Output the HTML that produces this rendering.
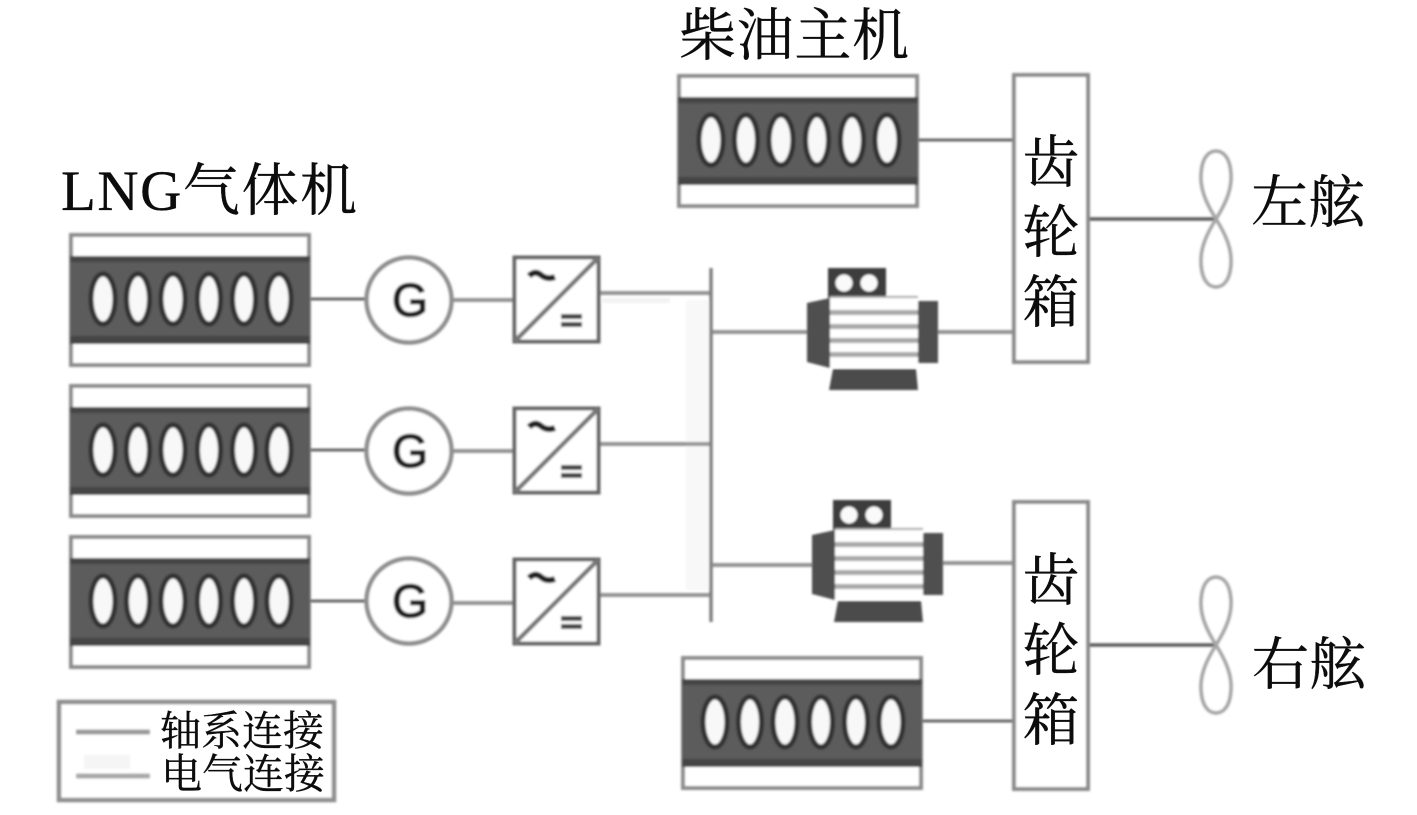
<!DOCTYPE html>
<html>
<head>
<meta charset="utf-8">
<style>
html,body{margin:0;padding:0;background:#fff;width:1417px;height:815px;overflow:hidden}
svg{display:block}
text{font-family:"Liberation Serif","Noto Serif CJK SC",serif;fill:#0c0c0c;stroke:#0c0c0c;stroke-width:.35px}
</style>
</head>
<body>
<svg width="1417" height="815" viewBox="0 0 1417 815" xmlns="http://www.w3.org/2000/svg">
<defs>
<filter id="b" x="-5%" y="-5%" width="110%" height="110%"><feGaussianBlur stdDeviation="1"/></filter>
<g id="engine">
  <rect x="1" y="1" width="238" height="130" fill="#fff" stroke="#8c8c8c" stroke-width="4"/>
  <rect x="0" y="22" width="240" height="88" fill="#5c5c5c"/>
  <rect x="0" y="22" width="240" height="6" fill="#444"/>
  <rect x="0" y="102" width="240" height="8" fill="#444"/>
  <g fill="#f8f8f8" stroke="#303030" stroke-width="5">
    <ellipse cx="33" cy="65" rx="12" ry="25"/>
    <ellipse cx="68" cy="65" rx="11.5" ry="25"/>
    <ellipse cx="103" cy="65" rx="12" ry="25"/>
    <ellipse cx="139" cy="65" rx="11.5" ry="25"/>
    <ellipse cx="174" cy="65" rx="11.5" ry="25"/>
    <ellipse cx="209" cy="65" rx="12" ry="25"/>
  </g>
</g>
<g id="gen">
  <circle cx="0" cy="0" r="42.5" fill="#fff" stroke="#8f8f8f" stroke-width="4.5"/>
  <text x="1" y="16" text-anchor="middle" style="font-family:'Liberation Sans',sans-serif;font-size:46px;fill:#1a1a1a;stroke:#1a1a1a;stroke-width:1.6px">G</text>
</g>
<g id="conv">
  <rect x="1.5" y="1.5" width="84" height="84" fill="#fff" stroke="#666" stroke-width="4"/>
  <line x1="2" y1="85" x2="85" y2="2" stroke="#777" stroke-width="4.5"/>
  <path d="M16 20 Q22 14 28 19 T42 21" fill="none" stroke="#222" stroke-width="6"/>
  <rect x="48" y="58" width="21" height="5" fill="#444"/>
  <rect x="48" y="66" width="21" height="5" fill="#444"/>
</g>
<g id="motor">
  <rect x="21" y="0" width="58" height="30" fill="#3e3e3e"/>
  <circle cx="37" cy="15" r="8.5" fill="#fafafa"/>
  <circle cx="62" cy="15" r="8.5" fill="#fafafa"/>
  <path d="M0 35 L23 30 L23 100 L0 94Z" fill="#505050"/>
  <rect x="23" y="29" width="88" height="71" fill="#fff"/>
  <g fill="#a8a8a8">
    <rect x="23" y="28" width="88" height="2"/>
    <rect x="23" y="42" width="88" height="5"/>
    <rect x="23" y="56" width="88" height="5"/>
    <rect x="23" y="70" width="88" height="5"/>
    <rect x="23" y="84" width="88" height="5"/>
  </g>
  <rect x="111" y="33" width="20" height="62" fill="#505050"/>
  <path d="M26 101 H109 L111 122 H22Z" fill="#4c4c4c"/>
</g>
<g id="prop" fill="none" stroke="#a5a5a5" stroke-width="3.5">
  <path d="M0 0 C-10 -16 -16 -30 -15 -45 C-14 -62 -7 -68 0 -68 C7 -68 14 -62 15 -45 C16 -30 10 -16 0 0Z"/>
  <path d="M0 0 C-10 16 -16 30 -15 45 C-14 62 -7 68 0 68 C7 68 14 62 15 45 C16 30 10 16 0 0Z"/>
</g>
</defs>

<g filter="url(#b)">
  <rect x="686" y="300" width="23" height="290" fill="#f8f8f8"/>
  <rect x="602" y="298" width="68" height="5" fill="#f2f2f2"/>
  <!-- shaft lines -->
  <g stroke="#666" stroke-width="3" fill="none">
    <line x1="309" y1="299" x2="366" y2="299"/>
    <line x1="309" y1="450" x2="366" y2="450"/>
    <line x1="309" y1="601" x2="366" y2="601"/>
    <line x1="918" y1="140" x2="1014" y2="140"/>
    <line x1="921" y1="721" x2="1014" y2="721"/>
    <line x1="1088" y1="219" x2="1216" y2="219" stroke="#5c5c5c" stroke-width="3.5"/>
    <line x1="1088" y1="645" x2="1216" y2="645" stroke="#5c5c5c" stroke-width="3.5"/>
  </g>
  <!-- electric lines -->
  <g stroke="#949494" stroke-width="4" fill="none">
    <line x1="453" y1="300" x2="514" y2="300"/>
    <line x1="453" y1="451" x2="514" y2="451"/>
    <line x1="453" y1="603" x2="514" y2="603"/>
    <line x1="599" y1="293" x2="711" y2="293"/>
    <line x1="599" y1="444" x2="711" y2="444"/>
    <line x1="599" y1="595" x2="711" y2="595"/>
    <line x1="711" y1="332" x2="808" y2="332"/>
    <line x1="711" y1="565" x2="814" y2="565"/>
    <line x1="937" y1="332" x2="1014" y2="332"/>
    <line x1="942" y1="563" x2="1014" y2="563"/>
  </g>
  <line x1="711" y1="268" x2="711" y2="622" stroke="#808080" stroke-width="3.5"/>

  <!-- engines -->
  <use href="#engine" x="70" y="234"/>
  <use href="#engine" x="70" y="385"/>
  <use href="#engine" x="70" y="536"/>
  <use href="#engine" x="678" y="75"/>
  <use href="#engine" x="682" y="657"/>

  <!-- generators -->
  <use href="#gen" x="409" y="300"/>
  <use href="#gen" x="409" y="451"/>
  <use href="#gen" x="409" y="601"/>

  <!-- converters -->
  <use href="#conv" x="513" y="256"/>
  <use href="#conv" x="513" y="407"/>
  <use href="#conv" x="513" y="558"/>

  <!-- motors -->
  <use href="#motor" x="807" y="268"/>
  <use href="#motor" x="812" y="500"/>

  <!-- gearboxes -->
  <rect x="1014" y="75" width="74" height="287" fill="#fff" stroke="#8a8a8a" stroke-width="4"/>
  <rect x="1014" y="502" width="74" height="287" fill="#fff" stroke="#8a8a8a" stroke-width="4"/>

  <!-- propellers -->
  <use href="#prop" x="1216" y="219"/>
  <use href="#prop" x="1216" y="645"/>

  <!-- legend -->
  <rect x="59" y="702" width="275" height="98" fill="#fff" stroke="#8e8e8e" stroke-width="4.5"/>
  <line x1="76" y1="732" x2="150" y2="732" stroke="#999" stroke-width="5"/>
  <rect x="84" y="755" width="46" height="14" fill="#f5f5f5"/>
  <line x1="76" y1="776" x2="150" y2="776" stroke="#a8a8a8" stroke-width="5"/>
</g>

<!-- labels -->
<text x="679" y="55" font-size="57" textLength="230" lengthAdjust="spacing">柴油主机</text>
<text x="61" y="210" font-size="57" textLength="296" lengthAdjust="spacing">LNG气体机</text>
<text x="1251" y="222" font-size="57">左舷</text>
<text x="1252" y="684" font-size="57">右舷</text>
<g font-size="57" text-anchor="middle">
  <text x="1051" y="182">齿</text>
  <text x="1051" y="252">轮</text>
  <text x="1051" y="322">箱</text>
  <text x="1051" y="600">齿</text>
  <text x="1051" y="670">轮</text>
  <text x="1051" y="740">箱</text>
</g>
<text x="160" y="745" font-size="41">轴系连接</text>
<text x="161" y="788" font-size="41">电气连接</text>
</svg>
</body>
</html>
